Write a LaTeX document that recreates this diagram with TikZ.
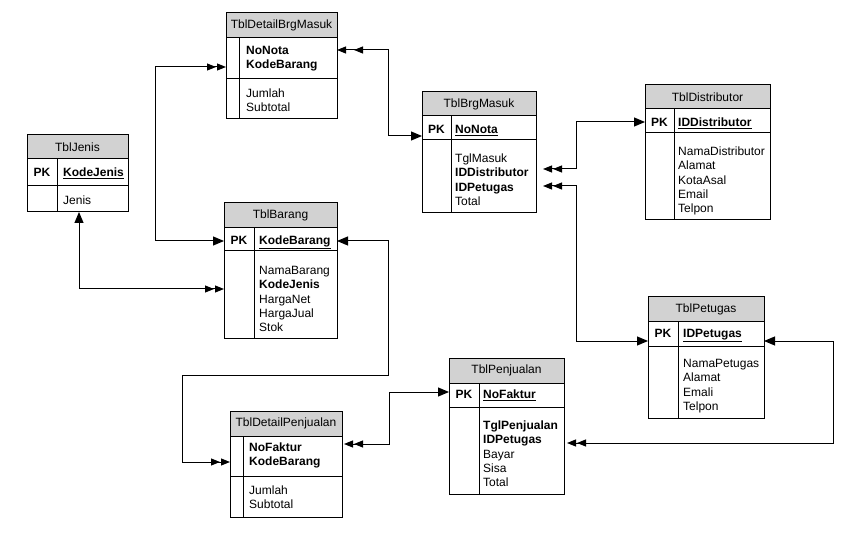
\documentclass[tikz,border=0pt]{standalone}
\usepackage{fontspec}
\setmainfont{Liberation Sans}
\usetikzlibrary{arrows.meta}
\definecolor{hdrgray}{RGB}{210,210,210}
\tikzset{
  tbl/.style={line width=1pt},
  ttl/.style={anchor=center, inner sep=0pt, font=\fontsize{12}{14}\selectfont},
  fld/.style={anchor=base west, inner sep=0pt, font=\fontsize{12}{14}\selectfont},
  pkl/.style={anchor=base, inner sep=0pt, font=\fontsize{12}{14}\selectfont\bfseries},
  conn/.style={line width=1pt},
  tone/.tip={Triangle[length=11pt,width=9pt]},
  tmany/.tip={Triangle[length=9pt,width=7pt,sep=1pt] Triangle[length=9pt,width=7pt]},
  tmanyw/.tip={Triangle[length=9pt,width=7pt,sep=8pt] Triangle[length=9pt,width=7pt]},
}
\newcommand\ertbl[9]{%
  \fill[hdrgray] (#1,#2) rectangle (#3,#5);
  \draw[tbl] (#1,#2) rectangle (#3,#4);
  \draw[tbl] (#1,#5) -- (#3,#5);
  \draw[tbl] (#1,#6) -- (#3,#6);
  \draw[tbl] (#7,#5) -- (#7,#4);
  \node[ttl] (#9) at ({(#1+#3)/2},{(#2+#5)/2}) {#8};
}
\newcommand\flist[4]{%
  \foreach \t [count=\i from 0] in {#4} {\node[fld] (#1\i) at (#2,{#3+14.3*\i}) {\t};}%
}
\begin{document}
\begin{tikzpicture}[x=1pt,y=-1pt]
\useasboundingbox (0,0) rectangle (856,534);

% TblDetailBrgMasuk
\ertbl{226}{13}{337}{119}{38}{79}{239}{TblDetailBrgMasuk}{dbm}
\flist{dbmk}{246}{54.5}{\textbf{NoNota},\textbf{KodeBarang}}
\flist{dbma}{246}{97.5}{Jumlah,Subtotal}

% TblJenis
\ertbl{27}{135}{128}{212}{159}{186}{57}{TblJenis}{jen}
\node[pkl] (jenpk) at (42,177) {PK};
\node[fld] (jenk) at (63,177) {\underline{\textbf{KodeJenis}}};
\node[fld] (jena) at (63,205) {Jenis};

% TblBarang
\ertbl{224}{203}{337}{338}{228}{251}{254}{TblBarang}{brg}
\node[pkl] (brgpk) at (239,244.5) {PK};
\node[fld] (brgk) at (259,244.5) {\underline{\textbf{KodeBarang}}};
\flist{brga}{259}{274.5}{NamaBarang,\textbf{KodeJenis},HargaNet,HargaJual,Stok}

% TblBrgMasuk
\ertbl{422}{92}{536}{213}{116}{140}{451}{TblBrgMasuk}{bm}
\node[pkl] (bmpk) at (436.5,133.5) {PK};
\node[fld] (bmk) at (455,133.5) {\underline{\textbf{NoNota}}};
\flist{bma}{455}{162.5}{TglMasuk,\textbf{IDDistributor},\textbf{IDPetugas},Total}

% TblDistributor
\ertbl{645}{85}{770}{220}{109}{133}{674}{TblDistributor}{dis}
\node[pkl] (dispk) at (659.5,126.5) {PK};
\node[fld] (disk) at (678,126.5) {\underline{\textbf{IDDistributor}}};
\flist{disa}{678}{155.5}{NamaDistributor,Alamat,KotaAsal,Email,Telpon}

% TblPetugas
\ertbl{648}{297}{764}{418}{322}{346}{678}{TblPetugas}{pet}
\node[pkl] (petpk) at (663,337.5) {PK};
\node[fld] (petk) at (683,337.5) {\underline{\textbf{IDPetugas}}};
\flist{peta}{683}{367.5}{NamaPetugas,Alamat,Emali,Telpon}

% TblPenjualan
\ertbl{449}{358}{564}{494}{383}{407}{479}{TblPenjualan}{pen}
\node[pkl] (penpk) at (464,398.5) {PK};
\node[fld] (penk) at (483,398.5) {\underline{\textbf{NoFaktur}}};
\flist{pena}{483}{429.5}{\textbf{TglPenjualan},\textbf{IDPetugas},Bayar,Sisa,Total}

% TblDetailPenjualan
\ertbl{230}{411}{342}{517}{436}{476}{243}{TblDetailPenjualan}{dpj}
\flist{dpjk}{249}{451.5}{\textbf{NoFaktur},\textbf{KodeBarang}}
\flist{dpja}{249}{494.5}{Jumlah,Subtotal}

% connector end points
\coordinate (brgL1) at (224,241);
\coordinate (brgL2) at (224,289);
\coordinate (brgR) at (337,241);
\coordinate (dbmL) at (226,67);
\coordinate (dbmR) at (337,50);
\coordinate (bmL) at (422,136);
\coordinate (bmR1) at (543,169);
\coordinate (bmR2) at (543,186);
\coordinate (jenB) at (79,212);
\coordinate (disL) at (645,122);
\coordinate (petL) at (648,341);
\coordinate (petR) at (764,341);
\coordinate (penL) at (449,392);
\coordinate (penR) at (567,443);
\coordinate (dpjL) at (230,462);
\coordinate (dpjR) at (344,444);

% connectors
\draw[conn,{tone}-{tmany}] (brgL1) -- (155,241) -- (155,67) -- (dbmL);
\draw[conn,{tmanyw}-{tone}] (dbmR) -- (388,50) -- (388,136) -- (bmL);
\draw[conn,{tone}-{tmany}] (jenB) -- (79,289) -- (brgL2);
\draw[conn,{tone}-{tmany}] (brgR) -- (388,241) -- (388,375) -- (182,375) -- (182,462) -- (dpjL);
\draw[conn,{tmany}-{tone}] (dpjR) -- (389,444) -- (389,392) -- (penL);
\draw[conn,{tone}-{tmany}] (disL) -- (576,122) -- (576,169) -- (bmR1);
\draw[conn,{tmany}-{tone}] (bmR2) -- (576,186) -- (576,341) -- (petL);
\draw[conn,{tone}-{tmany}] (petR) -- (833,341) -- (833,443) -- (penR);
\end{tikzpicture}
\end{document}
